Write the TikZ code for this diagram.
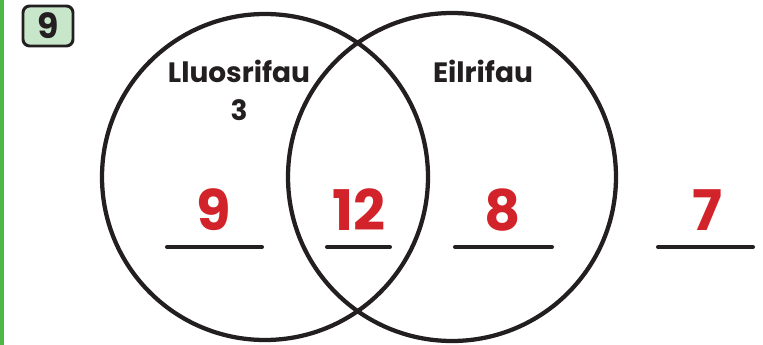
\documentclass[tikz,border=0pt]{standalone}
\usepackage{fontspec}
\usepackage{xcolor}
\usepackage{tikz}
\usetikzlibrary{positioning, calc}
\newfontfamily\roundfont{Poppins}

\definecolor{inkblack}{HTML}{231F20}
\definecolor{answerred}{HTML}{D2232A}
\definecolor{bargreen}{HTML}{4DB848}
\definecolor{badgegreen}{HTML}{C8E6C9}

\begin{document}
\begin{tikzpicture}[
    x=0.75pt, y=-0.75pt,
    ring/.style={draw=inkblack, line width=3.2pt},
    setlabel/.style={
      font=\roundfont\bfseries\fontsize{21}{28.5}\selectfont,
      text=inkblack, align=center, inner sep=0pt
    },
    answer/.style={
      font=\roundfont\bfseries\fontsize{42}{42}\selectfont,
      text=answerred, inner sep=0pt, anchor=base
    },
    blank/.style={draw=inkblack, line width=3pt, line cap=round},
    badge/.style={draw=inkblack, line width=2.2pt, fill=badgegreen,
      rounded corners=5pt}
  ]

    \useasboundingbox (0,0) rectangle (763,345);

    % ── Side bar and question badge ──
    \fill[bargreen] (0,0) rectangle (4,345);
    \draw[badge] (23,6) rectangle (73,46);
    \node[font=\roundfont\bfseries\fontsize{26}{26}\selectfont,
          text=inkblack, inner sep=0pt] (qnum) at (48,26) {9};

    % ── Venn circles ──
    \draw[ring] (265,177) circle[radius=163];
    \draw[ring] (452,177) circle[radius=164];

    % ── Set labels ──
    \node[setlabel, anchor=base] (multthree) at (239,121) {Lluosrifau\\3};
    \node[setlabel, anchor=base] (even) at (483,83) {Eilrifau};

    % ── Answers ──
    \node[answer] (nine) at (214,230) {9};
    \node[answer] (twelve) at (359,230) {12};
    \node[answer] (eight) at (503,230) {8};
    \node[answer] (seven) at (707,230) {7};

    % ── Answer lines ──
    \draw[blank] (167,247) -- (262,247);
    \draw[blank] (327,247) -- (390,247);
    \draw[blank] (455,247) -- (552,247);
    \draw[blank] (658,247) -- (753,247);

  \end{tikzpicture}
\end{document}
